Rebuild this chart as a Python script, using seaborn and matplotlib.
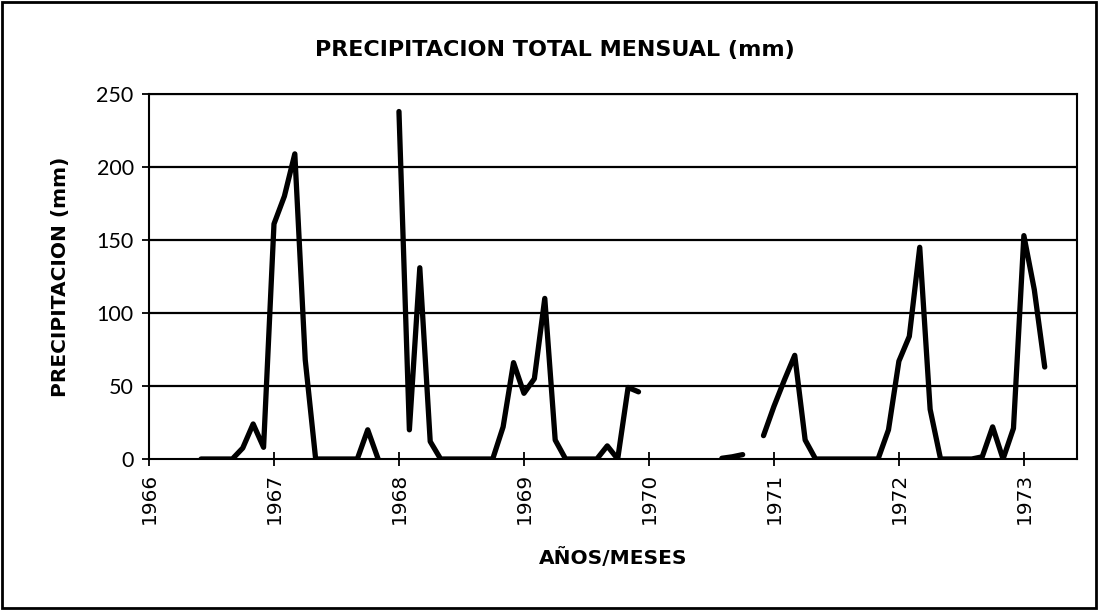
import numpy as np
import pandas as pd
import matplotlib
matplotlib.use("Agg")
import matplotlib.pyplot as plt
import seaborn as sns
from matplotlib.patches import Rectangle

# Monthly index from January 1966 (0) and precipitation values (mm); NaN = no data
months = list(range(0, 87))
precip = [np.nan, np.nan, np.nan, np.nan, np.nan,
          0, 0, 0, 0, 7.5, 24, 8,                 # 1966 May-Dec
          161, 180, 209, 68, 0, 0, 0, 0, 0, 20, 0, np.nan,   # 1967
          238, 20, 131, 12, 0, 0, 0, 0, 0, 0, 22, 66,         # 1968
          45, 55, 110, 13, 0, 0, 0, 0, 9, 0, 49, 46,          # 1969
          np.nan, np.nan, np.nan, np.nan, np.nan, np.nan, np.nan, 0.5, 1.5, 3, np.nan, 16,  # 1970
          36, 54, 71, 13, 0, 0, 0, 0, 0, 0, 0, 20,            # 1971
          67, 84, 145, 34, 0, 0, 0, 0, 1.5, 22, 0, 21,        # 1972
          153, 116, 63]                                       # 1973
year_ticks = [1966, 1967, 1968, 1969, 1970, 1971, 1972, 1973]
y_ticks = [0, 50, 100, 150, 200, 250]

df = pd.DataFrame({"month": months, "precip": precip})
df["year"] = 1966 + df["month"] / 12.0
df["segment"] = df["precip"].isna().cumsum()
df = df.dropna(subset=["precip"])

sns.set_theme(style="white")
plt.rcParams["font.family"] = ["Lato", "DejaVu Sans"]
plt.rcParams.update({"text.color": "black", "axes.labelcolor": "black",
                     "xtick.color": "black", "ytick.color": "black"})
bold_font = ["DejaVu Sans"]

fig = plt.figure(figsize=(10.99, 6.13), dpi=100)
ax = fig.add_axes([149 / 1099, 1 - 459 / 613, (1077 - 149) / 1099, (459 - 94) / 613])

sns.lineplot(data=df, x="year", y="precip", units="segment", estimator=None,
             color="black", linewidth=3.8, ax=ax, legend=False)

ax.set_xlim(1966, 1966 + 89.1 / 12)
ax.set_ylim(0, 250)
ax.set_yticks(y_ticks)
ax.set_yticklabels([str(v) for v in y_ticks], fontsize=15.5)
ax.set_xticks(year_ticks)
ax.set_xticklabels([str(v) for v in year_ticks], rotation=90,
                   fontsize=14.5, family="DejaVu Sans")
for y in y_ticks[1:]:
    ax.axhline(y, color="black", linewidth=1.6, zorder=0)

for s in ax.spines.values():
    s.set_color("black")
    s.set_linewidth(1.5)
    s.set_visible(True)
ax.tick_params(axis="x", direction="inout", length=10, width=1.3, color="black", pad=5)
ax.tick_params(axis="y", direction="out", length=5, width=1.3, color="black", pad=6, left=True)
ax.tick_params(axis="x", bottom=True)

ax.set_xlabel("AÑOS/MESES", fontsize=14.5, fontweight="bold", family=bold_font, labelpad=17)
ax.set_ylabel("PRECIPITACION (mm)", fontsize=14.5, fontweight="bold", family=bold_font, labelpad=19)
fig.text(555 / 1099, 1 - 50 / 613, "PRECIPITACION TOTAL MENSUAL (mm)",
         ha="center", va="center", fontsize=16, fontweight="bold", family=bold_font)

fig.patches.append(Rectangle((2 / 1099, 5 / 613), 1094 / 1099, 606 / 613,
                             transform=fig.transFigure, fill=False,
                             edgecolor="black", linewidth=2))

fig.savefig("out.png", dpi=100)
